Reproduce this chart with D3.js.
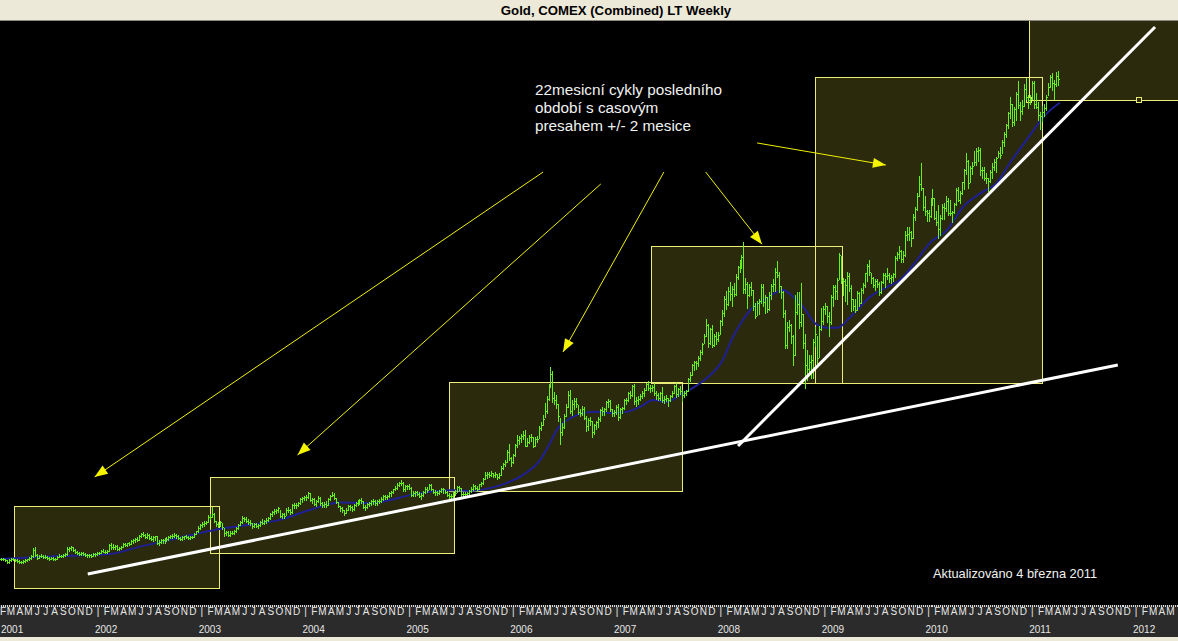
<!DOCTYPE html>
<html><head><meta charset="utf-8">
<script src="https://cdn.jsdelivr.net/npm/d3@7"></script>
<style>html,body{margin:0;padding:0;background:#000;overflow:hidden}</style>
</head><body><svg id="c" width="1178" height="641"></svg>
<script>
// ---------- DATA ----------
const chartTitle = "Gold, COMEX (Combined) LT Weekly";
const firstYear = 2001;
// weekly bars [high, low, close], one array per calendar year (Fridays)
const w2001=[[272,265,268],[269,262,264],[266,262,264],[268,262,265],[267,262,264],[266,259,262],[263,255,258],[264,256,262],[268,261,266],[268,262,265],[266,261,263],[264,257,260],[262,256,258],[260,255,257],[262,255,259],[264,257,262],[266,260,264],[270,263,268],[274,266,272],[292,271,288],[295,272,274],[276,266,268],[275,267,272],[276,269,273],[274,268,270],[274,268,271],[272,264,267],[269,263,266],[270,264,268],[269,263,266],[268,262,266],[272,265,270],[276,269,273],[275,269,272],[277,270,274],[279,272,276],[295,274,289],[294,284,291],[296,286,293],[294,284,288],[290,279,282],[285,277,280],[283,275,278],[282,275,279],[281,274,277],[279,272,275],[278,271,274],[277,271,274],[276,270,273],[279,272,276],[280,273,277],[281,275,279]];
const w2002=[[283,276,280],[287,279,285],[289,281,283],[287,279,281],[286,279,284],[302,284,299],[303,290,295],[301,290,294],[298,290,296],[298,286,289],[294,286,292],[297,289,294],[304,293,302],[305,296,298],[305,296,303],[306,298,302],[312,301,309],[313,304,311],[316,307,314],[318,308,312],[323,310,320],[328,318,326],[330,320,324],[326,315,318],[327,316,323],[325,313,316],[320,310,314],[320,309,318],[322,312,320],[321,301,304],[310,300,307],[313,303,310],[314,304,311],[315,305,313],[318,309,314],[320,311,318],[324,315,320],[325,316,322],[327,318,323],[326,317,322],[324,313,316],[318,310,313],[320,311,318],[322,314,320],[324,316,319],[322,314,317],[321,313,318],[322,315,319],[328,318,326],[334,325,332],[344,330,341],[350,338,347]];
const w2003=[[354,343,350],[357,346,352],[358,349,354],[372,355,368],[375,362,368],[391,366,375],[376,355,358],[358,346,350],[355,343,348],[358,346,354],[352,338,342],[340,322,327],[334,324,331],[332,320,324],[332,322,329],[334,325,328],[335,326,333],[342,331,340],[350,339,348],[358,347,355],[369,353,365],[368,356,361],[367,354,358],[362,351,354],[360,348,352],[353,340,346],[352,342,349],[352,342,345],[350,340,347],[358,346,355],[362,350,353],[360,349,356],[364,353,360],[367,356,364],[377,363,375],[382,370,378],[386,373,381],[387,376,384],[392,379,388],[385,367,370],[376,365,373],[377,364,369],[389,371,385],[392,380,384],[386,374,378],[398,376,396],[400,389,396],[400,388,397],[404,394,402],[412,398,410],[416,403,412],[418,407,415]];
const w2004=[[420,409,416],[427,414,424],[424,405,407],[412,402,410],[413,396,399],[408,393,405],[417,404,414],[416,396,400],[404,392,396],[403,391,399],[405,392,396],[413,396,410],[420,408,418],[428,417,421],[425,410,413],[414,400,404],[404,390,394],[394,382,388],[392,380,383],[385,372,377],[388,376,384],[395,383,393],[397,385,390],[393,381,386],[398,385,395],[404,393,400],[408,395,400],[410,399,407],[412,401,406],[405,389,392],[396,385,390],[400,388,398],[403,393,400],[409,397,406],[410,398,405],[408,397,400],[408,396,405],[410,400,406],[416,404,411],[421,408,418],[421,411,416],[421,410,419],[427,416,424],[430,418,428],[436,424,434],[442,432,437],[449,434,445],[452,443,450],[457,445,450],[452,431,434],[444,431,441],[445,435,442],[446,434,438]];
const w2005=[[440,418,421],[429,418,425],[429,419,427],[430,420,423],[428,416,418],[424,410,421],[431,419,428],[439,426,436],[439,428,433],[448,434,444],[446,432,435],[436,424,427],[432,421,428],[431,421,425],[432,422,430],[438,427,435],[437,426,434],[433,424,428],[430,419,421],[424,414,419],[422,413,417],[427,415,425],[432,420,425],[442,427,440],[443,432,437],[437,419,423],[428,415,422],[428,418,422],[428,418,425],[432,421,429],[439,428,436],[446,433,442],[445,434,437],[441,430,436],[448,434,446],[452,442,450],[462,447,460],[475,458,468],[477,462,472],[475,465,470],[478,466,473],[474,464,469],[475,464,472],[472,460,464],[474,461,469],[490,470,486],[498,484,495],[505,490,500],[530,500,525],[545,505,510],[512,490,500],[520,497,517]];
const w2006=[[545,516,542],[565,537,553],[563,545,558],[569,550,563],[575,556,565],[577,538,540],[558,538,550],[566,546,560],[568,552,561],[562,536,538],[562,538,557],[564,550,556],[587,558,582],[598,578,590],[615,590,605],[644,610,624],[660,620,654],[690,652,683],[732,685,714],[720,645,655],[670,642,652],[664,632,640],[640,600,612],[608,543,572],[595,565,585],[617,582,612],[640,612,635],[672,633,664],[676,620,625],[650,615,642],[656,630,649],[655,633,640],[638,617,622],[630,611,620],[637,614,630],[633,604,608],[612,575,588],[606,578,602],[610,590,599],[600,560,573],[592,568,590],[600,580,597],[609,585,605],[630,600,626],[634,614,625],[632,614,628],[648,624,645],[654,635,648],[650,624,630],[630,612,620],[627,613,622],[639,618,635]];
const w2007=[[640,603,610],[632,606,630],[635,620,631],[653,630,650],[656,640,652],[670,648,667],[672,655,664],[688,661,684],[690,640,648],[658,636,650],[660,641,654],[665,650,661],[672,656,668],[681,660,676],[693,674,690],[696,674,680],[687,670,679],[688,672,683],[692,662,668],[673,654,662],[667,650,656],[671,652,668],[682,645,650],[660,643,653],[664,649,655],[656,637,650],[662,648,660],[672,658,669],[688,667,684],[693,658,665],[680,660,677],[685,666,672],[675,648,664],[672,658,668],[675,663,673],[705,672,702],[718,698,712],[738,712,736],[746,724,743],[746,725,740],[757,733,752],[772,747,768],[790,762,786],[810,788,806],[848,805,832],[835,780,788],[826,786,822],[834,780,785],[812,783,806],[815,787,800],[815,795,808],[845,810,842]];
const w2008=[[870,834,862],[902,855,896],[915,871,884],[925,882,915],[938,893,908],[927,878,920],[935,902,908],[956,905,950],[976,944,973],[990,962,975],[1002,970,999],[1033,910,920],[948,910,933],[937,875,906],[933,903,925],[938,906,918],[918,870,880],[885,850,855],[890,858,885],[895,860,890],[932,887,926],[932,880,888],[906,862,901],[900,865,872],[912,870,905],[932,896,928],[945,915,932],[970,915,962],[988,950,955],[962,913,928],[928,898,912],[915,853,862],[868,778,785],[840,778,828],[845,818,834],[836,790,806],[808,735,760],[905,760,864],[912,860,884],[912,825,840],[934,830,860],[860,776,788],[810,681,735],[772,700,725],[760,718,742],[759,705,747],[800,705,792],[828,782,812],[805,740,752],[830,755,822],[875,820,842],[880,836,872]];
const w2009=[[885,860,878],[880,840,855],[865,805,840],[905,835,900],[930,880,925],[930,895,915],[948,895,943],[1007,945,1002],[1000,935,942],[948,905,940],[945,890,929],[962,884,952],[960,915,922],[930,866,897],[895,870,880],[895,865,870],[915,868,910],[912,878,886],[922,885,917],[935,910,930],[960,924,958],[980,940,976],[990,955,962],[958,935,948],[950,925,930],[945,918,940],[945,925,932],[938,905,912],[940,910,938],[960,935,953],[960,925,952],[970,945,955],[960,936,946],[955,935,950],[958,939,956],[1000,950,995],[1010,990,1005],[1025,995,1012],[1015,985,993],[1012,985,1003],[1062,1000,1050],[1071,1040,1054],[1070,1040,1058],[1062,1025,1045],[1102,1045,1095],[1118,1088,1115],[1152,1112,1145],[1195,1145,1175],[1227,1160,1165],[1165,1112,1118],[1145,1100,1110],[1113,1085,1105]];
const w2010=[[1112,1085,1097],[1140,1095,1138],[1162,1125,1140],[1142,1090,1093],[1110,1075,1082],[1125,1045,1065],[1100,1052,1093],[1126,1090,1119],[1128,1090,1117],[1145,1110,1133],[1140,1100,1105],[1135,1100,1104],[1110,1083,1106],[1129,1105,1126],[1165,1123,1160],[1167,1134,1137],[1157,1130,1153],[1180,1150,1179],[1212,1163,1210],[1250,1200,1231],[1232,1166,1177],[1219,1180,1214],[1228,1200,1219],[1254,1220,1229],[1262,1220,1256],[1264,1230,1257],[1262,1196,1208],[1217,1190,1210],[1215,1185,1189],[1202,1177,1189],[1190,1157,1182],[1210,1180,1204],[1225,1190,1216],[1235,1210,1228],[1240,1205,1237],[1256,1240,1249],[1264,1238,1246],[1281,1250,1276],[1300,1268,1297],[1321,1290,1317],[1349,1310,1347],[1387,1335,1370],[1370,1315,1325],[1362,1318,1358],[1397,1330,1394],[1424,1360,1366],[1374,1330,1352],[1378,1345,1365],[1418,1365,1406],[1432,1380,1386],[1390,1360,1379],[1390,1370,1380],[1424,1380,1421]];
const w2011=[[1425,1360,1369],[1395,1360,1361],[1375,1330,1343],[1350,1309,1341],[1365,1328,1349],[1370,1340,1360],[1390,1355,1387],[1420,1390,1411],[1440,1410,1434],[1445,1402,1420],[1428,1380,1418],[1447,1413,1437],[1448,1415,1429]];

// moving average
const maDates=["2001-01-21","2001-08-20","2002-02-12","2002-05-28","2002-09-10","2002-12-25","2003-03-05","2003-06-18","2003-10-02","2004-01-16","2004-05-01","2004-08-15","2004-10-24","2005-01-03","2005-03-14","2005-05-23","2005-07-31","2005-10-10","2005-12-08","2006-02-04","2006-04-05","2006-05-10","2006-06-03","2006-06-25","2006-07-30","2006-09-03","2006-10-22","2006-12-17","2007-02-05","2007-03-23","2007-05-08","2007-06-26","2007-08-11","2007-09-25","2007-11-13","2008-01-08","2008-02-13","2008-03-19","2008-04-23","2008-06-12","2008-07-17","2008-08-07","2008-09-12","2008-10-17","2008-12-05","2009-01-09","2009-02-14","2009-04-01","2009-06-09","2009-08-08","2009-09-23","2009-11-22","2010-01-06","2010-03-07","2010-05-02","2010-07-11","2010-08-29","2010-10-14","2010-12-12","2011-02-22","2011-04-08"];
const maValues=[265,272,277,295,311,328,338,348,360,384,402,401,408,420,428,432,430,437,449,469,505,546,578,595,610,619,622,619,622,634,651,646,663,680,704,748,804,845,876,898,913,918,901,876,833,826,826,852,901,925,942,991,1032,1063,1119,1156,1177,1226,1282,1347,1372];

// cycle boxes (time span and price span)
const boxStart=["2001-03-11","2003-01-29","2005-05-20","2007-05-02","2008-11-28","2010-12-21"];
const boxEnd  =["2003-03-02","2005-06-07","2007-08-17","2009-03-01","2011-02-04","2012-07-01"];
const boxLow  =[194.6,279.6,430,692,692,1377.6];
const boxHigh =[393.6,464,695.7,1024.5,1434.6,1573];
const handleDates=["2010-12-21","2012-01-11"];
const handlePrice=[1377.6,1377.6];

// trend lines [start date, start price, end date, end price]
const trendStart=["2001-11-26","2008-03-02"];
const trendStartPrice=[228.6,539.2];
const trendEnd=["2011-10-29","2012-03-08"];
const trendEndPrice=[735.8,1556];

// arrows
const arrowFrom=["2006-04-16","2006-11-05","2007-06-15","2007-11-09","2008-05-08"];
const arrowFromPrice=[1204,1175,1204,1204,1274.5];
const arrowTo=["2001-12-20","2003-12-04","2006-06-25","2008-05-25","2009-08-04"];
const arrowToPrice=[464,517.4,767.3,1029,1221];

const noteLines=["22mesicní cykly posledního","období s casovým","presahem +/- 2 mesice"];
const updateNote="Aktualizováno 4 března 2011";
const monthLetters=["|","F","M","A","M","J","J","A","S","O","N","D"];
const axisYears=[2001,2002,2003,2004,2005,2006,2007,2008,2009,2010,2011,2012];

// ---------- CHART ----------
const W=1178,H=641, plotTop=21, plotBottom=605, axisBottom=637;
const parse=d3.timeParse("%Y-%m-%d");
const x=d3.scaleTime().domain([new Date(2002,0,1),new Date(2012,0,1)]).range([98,1136]);
const y=d3.scaleLinear().domain([265,1445]).range([559,72.7]);

const svg=d3.select("#c");
svg.append("rect").attr("x",0).attr("y",0).attr("width",W).attr("height",H).attr("fill","#000");

const defs=svg.append("defs");
defs.append("clipPath").attr("id","plotclip").append("rect")
  .attr("x",0).attr("y",plotTop).attr("width",W).attr("height",plotBottom-plotTop);

const plot=svg.append("g").attr("clip-path","url(#plotclip)");

// boxes
const boxes=boxStart.map((s,i)=>({s:parse(s),e:parse(boxEnd[i]),lo:boxLow[i],hi:boxHigh[i]}));
plot.append("g").selectAll("rect").data(boxes).join("rect")
  .attr("x",d=>Math.round(x(d.s))+0.5).attr("y",d=>Math.round(y(d.hi))+0.5)
  .attr("width",d=>Math.round(x(d.e))-Math.round(x(d.s)))
  .attr("height",d=>Math.round(y(d.lo))-Math.round(y(d.hi)))
  .attr("fill","#2b2a0d");
plot.append("g").selectAll("rect").data(boxes).join("rect")
  .attr("x",d=>Math.round(x(d.s))+0.5).attr("y",d=>Math.round(y(d.hi))+0.5)
  .attr("width",d=>Math.round(x(d.e))-Math.round(x(d.s)))
  .attr("height",d=>Math.round(y(d.lo))-Math.round(y(d.hi)))
  .attr("fill","none").attr("stroke","#ecec78").attr("stroke-width",1);
plot.append("g").selectAll("rect").data(handleDates).join("rect")
  .attr("x",(d,i)=>Math.round(x(parse(d)))-2.5).attr("y",(d,i)=>Math.round(y(handlePrice[i]))-2.5)
  .attr("width",5).attr("height",5).attr("fill","#2b2a0d").attr("stroke","#ecec78");

// moving average
const ma=maDates.map((d,i)=>({date:parse(d),v:maValues[i]}));
plot.append("path").datum(ma)
  .attr("d",d3.line().x(d=>x(d.date)).y(d=>y(d.v)).curve(d3.curveMonotoneX))
  .attr("fill","none").attr("stroke","#1f1f96").attr("stroke-width",2);

// weekly bars
const yearArrays=[w2001,w2002,w2003,w2004,w2005,w2006,w2007,w2008,w2009,w2010,w2011];
const bars=[];
yearArrays.forEach((arr,i)=>{
  const yr=firstYear+i;
  const fr=d3.timeFriday.range(new Date(yr,0,1),new Date(yr+1,0,1));
  arr.forEach((b,j)=>{ if(fr[j]) bars.push({date:fr[j],high:b[0],low:b[1],close:b[2]}); });
});
const bg=plot.append("g").attr("stroke","#66f020").attr("stroke-width",1).attr("shape-rendering","crispEdges");
bg.selectAll("line.hl").data(bars).join("line").attr("class","hl")
  .attr("x1",d=>Math.round(x(d.date))+0.5).attr("x2",d=>Math.round(x(d.date))+0.5)
  .attr("y1",d=>Math.round(y(d.high))).attr("y2",d=>Math.round(y(d.low))+1);
bg.selectAll("line.cl").data(bars).join("line").attr("class","cl")
  .attr("x1",d=>Math.round(x(d.date))+1).attr("x2",d=>Math.round(x(d.date))+2)
  .attr("y1",d=>Math.round(y(d.close))+0.5).attr("y2",d=>Math.round(y(d.close))+0.5);

// trend lines
plot.append("g").selectAll("line").data(trendStart).join("line")
  .attr("x1",d=>x(parse(d))).attr("y1",(d,i)=>y(trendStartPrice[i]))
  .attr("x2",(d,i)=>x(parse(trendEnd[i]))).attr("y2",(d,i)=>y(trendEndPrice[i]))
  .attr("stroke","#ffffff").attr("stroke-width",3);

// arrows
const arrows=arrowFrom.map((d,i)=>({x1:x(parse(d)),y1:y(arrowFromPrice[i]),x2:x(parse(arrowTo[i])),y2:y(arrowToPrice[i])}));
const ag=plot.append("g");
ag.selectAll("line").data(arrows).join("line")
  .attr("x1",d=>d.x1).attr("y1",d=>d.y1).attr("x2",d=>d.x2).attr("y2",d=>d.y2)
  .attr("stroke","#f0f000").attr("stroke-width",1);
ag.selectAll("path").data(arrows).join("path")
  .attr("d",d=>{
    const a=Math.atan2(d.y2-d.y1,d.x2-d.x1), L=13, Wd=5;
    const bx=d.x2-L*Math.cos(a), by=d.y2-L*Math.sin(a);
    const px=-Math.sin(a)*Wd, py=Math.cos(a)*Wd;
    return `M${d.x2},${d.y2}L${bx+px},${by+py}L${bx-px},${by-py}Z`;
  }).attr("fill","#f5f500");

// annotation text
const note=svg.append("text").attr("x",535).attr("y",95)
  .attr("font-family","'Liberation Sans', Arial, sans-serif").attr("font-size",15.3).attr("fill","#f2f2f2");
noteLines.forEach((t,i)=>note.append("tspan").attr("x",535).attr("y",95+i*18).text(t));
svg.append("text").attr("x",933).attr("y",578).text(updateNote)
  .attr("font-family","'Liberation Sans', Arial, sans-serif").attr("font-size",12.8).attr("fill","#f2f2f2");

// title bar
svg.append("rect").attr("x",0).attr("y",0).attr("width",W).attr("height",plotTop-1).attr("fill","#ece9d8");
svg.append("line").attr("x1",0).attr("x2",W).attr("y1",plotTop-0.5).attr("y2",plotTop-0.5).attr("stroke","#8c8a80");
svg.append("text").attr("x",616).attr("y",15).attr("text-anchor","middle").text(chartTitle)
  .attr("font-family","'Liberation Sans', Arial, sans-serif").attr("font-weight","bold").attr("font-size",13.2).attr("fill","#000");

// x axis
svg.append("rect").attr("x",0).attr("y",plotBottom).attr("width",W).attr("height",axisBottom-plotBottom).attr("fill","#2b2b2b");
svg.append("rect").attr("x",0).attr("y",axisBottom).attr("width",W).attr("height",H-axisBottom).attr("fill","#ece9d8");
const weeks=d3.timeFriday.range(new Date(2000,11,1),new Date(2012,6,1));
svg.append("g").attr("shape-rendering","crispEdges").selectAll("line").data(weeks).join("line")
  .attr("x1",d=>Math.round(x(d))+0.5).attr("x2",d=>Math.round(x(d))+0.5)
  .attr("y1",plotBottom).attr("y2",plotBottom+2).attr("stroke","#d8d8d8");
const ax=svg.append("g").attr("font-family","'Liberation Sans', Arial, sans-serif").attr("fill","#e6e6e6");
const monthTicks=[];
axisYears.forEach(yr=>monthLetters.forEach((m,k)=>monthTicks.push({d:new Date(yr,k,1),t:m})));
ax.selectAll("text.m").data(monthTicks.filter(d=>x(d.d)>2&&x(d.d)<W-6)).join("text").attr("class","m")
  .attr("x",d=>x(d.d)).attr("y",615).attr("text-anchor","middle").attr("font-size",10).text(d=>d.t);
ax.selectAll("text.y").data(axisYears).join("text").attr("class","y")
  .attr("x",d=>Math.max(1,x(new Date(d,0,1))-3)).attr("y",633).attr("font-size",10).text(d=>d);
</script></body></html>
